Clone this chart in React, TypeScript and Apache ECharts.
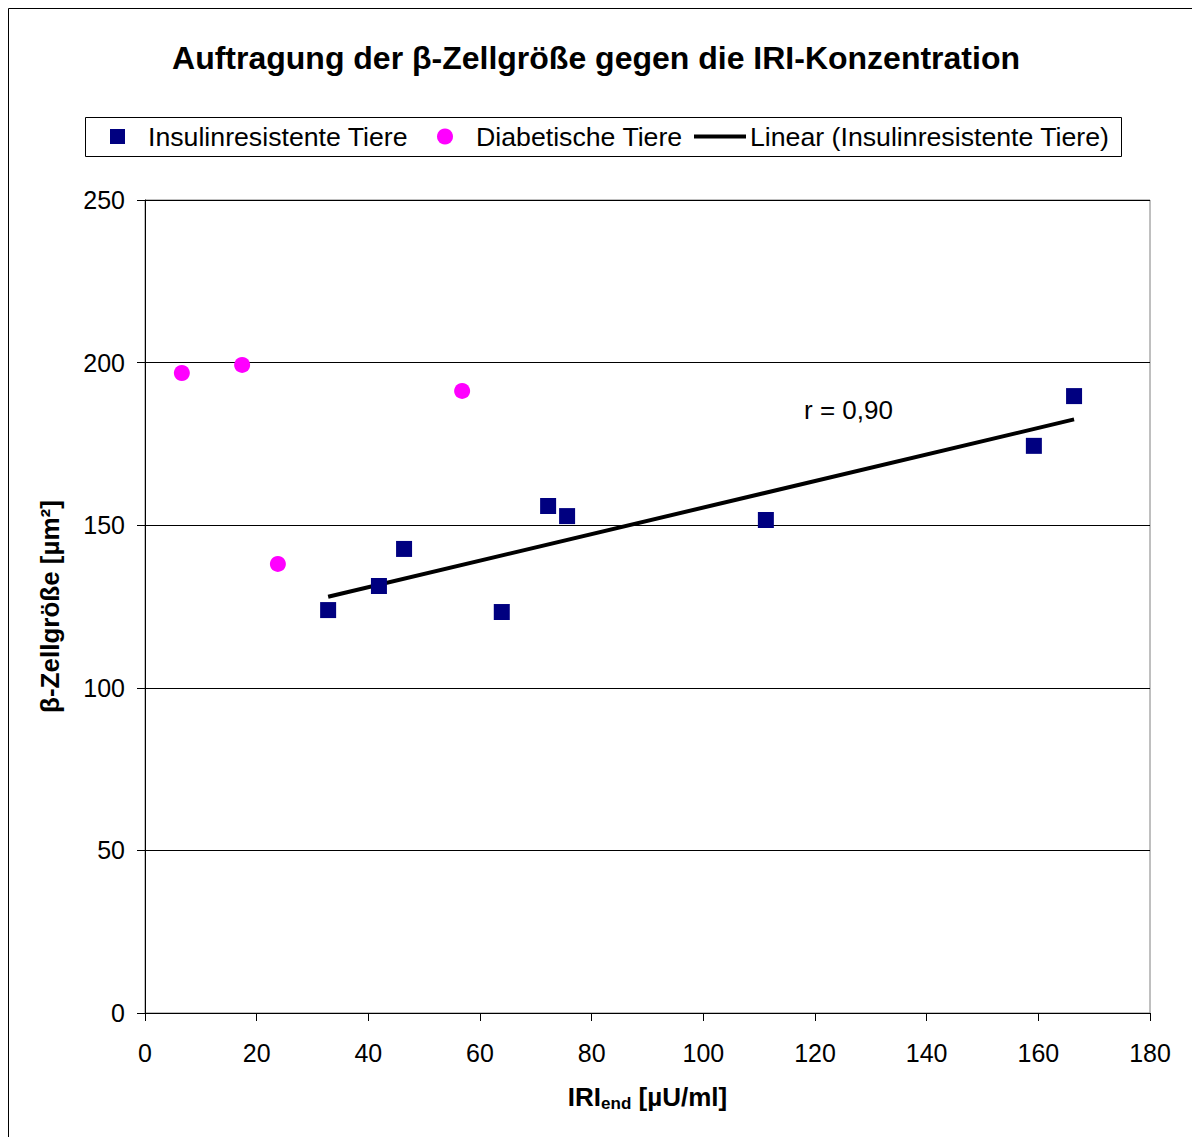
import React, { useEffect, useRef } from "react";
import * as echarts from "echarts";

const titleText = "Auftragung der β-Zellgröße gegen die IRI-Konzentration";
const seriesNames = ["Insulinresistente Tiere", "Diabetische Tiere", "Linear (Insulinresistente Tiere)"];
const insulinX = [32.8, 41.9, 46.4, 63.9, 72.2, 75.6, 111.2, 159.2, 166.4];
const insulinY = [123.9, 131.3, 142.7, 123.3, 155.9, 152.8, 151.6, 174.4, 189.7];
const diabX = [6.6, 17.4, 23.8, 56.8];
const diabY = [196.8, 199.3, 138.1, 191.3];
const rLabel = "r = 0,90";
const xTicks = { min: 0, max: 180, interval: 20 };
const yTicks = { min: 0, max: 250, interval: 50 };

function fit(xs: number[], ys: number[]) {
  const n = xs.length;
  const mx = xs.reduce((a, b) => a + b, 0) / n;
  const my = ys.reduce((a, b) => a + b, 0) / n;
  let sxy = 0, sxx = 0;
  for (let i = 0; i < n; i++) {
    sxy += (xs[i] - mx) * (ys[i] - my);
    sxx += (xs[i] - mx) ** 2;
  }
  const b = sxy / sxx;
  const a = my - b * mx;
  return { a, b };
}

export default function App() {
  const ref = useRef<HTMLDivElement>(null);
  useEffect(() => {
    if (!ref.current) return;
    const chart = echarts.init(ref.current, null, { renderer: "svg" });
    const { a, b } = fit(insulinX, insulinY);
    const x0 = Math.min(...insulinX);
    const x1 = Math.max(...insulinX);
    const font = "'Liberation Sans', Arial, sans-serif";
    const legendText = { fontSize: 26.7, color: "#000", fontFamily: font };
    chart.setOption({
      animation: false,
      backgroundColor: "#fff",
      textStyle: { fontFamily: font, color: "#000" },
      title: {
        text: titleText,
        left: "center",
        top: 42,
        padding: 0,
        textStyle: { fontSize: 32, fontWeight: "bold", color: "#000", fontFamily: font },
      },
      legend: [
        {
          data: [seriesNames[0]],
          left: 110,
          top: 123,
          padding: 0,
          icon: "rect",
          itemWidth: 15,
          itemHeight: 15,
          textStyle: { ...legendText, padding: [0, 0, 0, 18] },
          selectedMode: false,
        },
        {
          data: [seriesNames[1]],
          left: 437,
          top: 123,
          padding: 0,
          icon: "circle",
          itemWidth: 16,
          itemHeight: 16,
          textStyle: { ...legendText, padding: [0, 0, 0, 18] },
          selectedMode: false,
        },
        {
          data: [seriesNames[2]],
          left: 694,
          top: 123,
          padding: 0,
          icon: "rect",
          itemWidth: 52,
          itemHeight: 4,
          textStyle: { ...legendText, padding: [0, 0, 0, -1] },
          selectedMode: false,
        },
      ],
      grid: {
        left: 145,
        top: 200,
        width: 1005,
        height: 813,
        show: true,
        borderColor: "#808080",
        borderWidth: 1,
        backgroundColor: "#fff",
      },
      xAxis: {
        type: "value",
        min: xTicks.min,
        max: xTicks.max,
        interval: xTicks.interval,
        name: "{b|IRI}{s|end}{b| [µU/ml]}",
        nameLocation: "middle",
        nameGap: 69,
        nameTextStyle: {
          rich: {
            b: { fontSize: 26, fontWeight: "bold", color: "#000", fontFamily: font },
            s: { fontSize: 17, fontWeight: "bold", color: "#000", fontFamily: font, verticalAlign: "bottom", padding: [13, 0, 0, 0] },
          },
        },
        axisLine: { show: true, lineStyle: { color: "#000", width: 1 } },
        axisTick: { show: true, inside: false, length: 8, lineStyle: { color: "#000" } },
        axisLabel: { fontSize: 25, color: "#000", margin: 27, fontFamily: font },
        splitLine: { show: false },
      },
      yAxis: {
        type: "value",
        min: yTicks.min,
        max: yTicks.max,
        interval: yTicks.interval,
        name: "β-Zellgröße [µm²]",
        nameLocation: "middle",
        nameGap: 82,
        nameTextStyle: { fontSize: 26, fontWeight: "bold", color: "#000", fontFamily: font },
        axisLine: { show: true, lineStyle: { color: "#000", width: 1 } },
        axisTick: { show: true, inside: false, length: 8, lineStyle: { color: "#000" } },
        axisLabel: { fontSize: 25, color: "#000", margin: 20, fontFamily: font },
        splitLine: { show: true, lineStyle: { color: "#000", width: 1 } },
      },
      series: [
        {
          name: seriesNames[0],
          type: "scatter",
          symbol: "rect",
          symbolSize: 16,
          itemStyle: { color: "#000080", opacity: 1 },
          data: insulinX.map((x, i) => [x, insulinY[i]]),
          z: 3,
        },
        {
          name: seriesNames[1],
          type: "scatter",
          symbol: "circle",
          symbolSize: 16,
          itemStyle: { color: "#FF00FF", opacity: 1 },
          data: diabX.map((x, i) => [x, diabY[i]]),
          z: 3,
        },
        {
          name: seriesNames[2],
          type: "line",
          showSymbol: false,
          symbol: "none",
          lineStyle: { color: "#000", width: 4 },
          itemStyle: { color: "#000" },
          data: [
            [x0, a + b * x0],
            [x1, a + b * x1],
          ],
          z: 2,
        },
      ],
      graphic: [
        {
          type: "rect",
          shape: { x: 8.5, y: 8.5, width: 1200, height: 1200 },
          style: { fill: "none", stroke: "#000", lineWidth: 1 },
          silent: true,
          z: 0,
        },
        {
          type: "rect",
          shape: { x: 85.5, y: 117.5, width: 1036, height: 39 },
          style: { fill: "none", stroke: "#000", lineWidth: 1 },
          silent: true,
        },
        {
          type: "text",
          left: 804,
          top: 397,
          style: { text: rLabel, fontSize: 26, fill: "#000", fontFamily: font },
        },
      ],
    });
    return () => chart.dispose();
  }, []);
  return (
    <div
      ref={ref}
      style={{ position: "fixed", left: 0, top: 0, width: 1192, height: 1137 }}
    />
  );
}
